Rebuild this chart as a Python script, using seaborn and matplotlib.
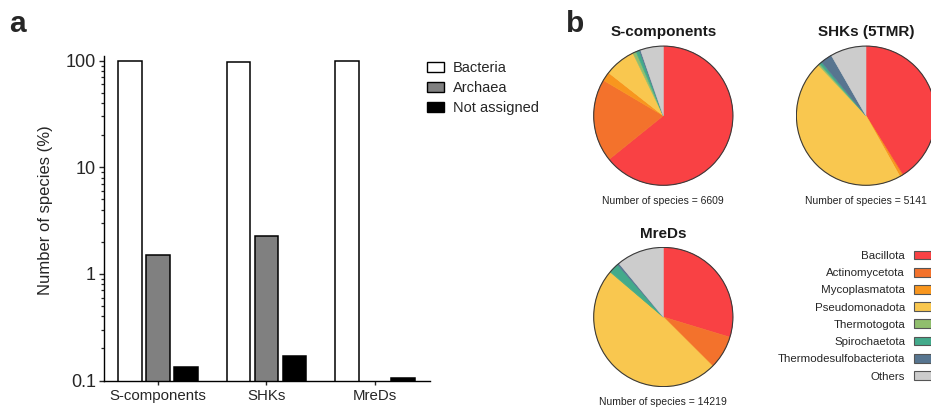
import numpy as np
import pandas as pd
import matplotlib
matplotlib.use("Agg")
import matplotlib.pyplot as plt
from matplotlib.patches import Patch, Circle
from matplotlib.ticker import LogLocator, FixedLocator, FixedFormatter, NullFormatter
import seaborn as sns

# ------------------------------
# Data
# ------------------------------
categories = ["S-components", "SHKs", "MreDs"]
domains = ["Bacteria", "Archaea", "Not assigned"]
bacteria_pct = [98.4, 97.6, 99.9]
archaea_pct = [1.49, 2.25, 0.0]
not_assigned_pct = [0.134, 0.171, 0.105]

phyla = [
    "Bacillota",
    "Actinomycetota",
    "Mycoplasmatota",
    "Pseudomonadota",
    "Thermotogota",
    "Spirochaetota",
    "Thermodesulfobacteriota",
    "Others",
]
s_components_share = [64.2, 19.3, 2.1, 7.2, 0.8, 0.8, 0.3, 5.3]
shks_share = [41.1, 0.2, 0.6, 46.1, 0.4, 0.6, 2.7, 8.3]
mreds_share = [29.7, 7.8, 0.0, 48.7, 0.1, 2.3, 0.45, 11.0]
pie_titles = ["S-components", "SHKs (5TMR)", "MreDs"]
species_counts = [6609, 5141, 14219]

DOMAIN_COLORS = {"Bacteria": "white", "Archaea": "#808080", "Not assigned": "black"}
PHYLA_COLORS = ["#F94144", "#F3722C", "#F8961E", "#F9C74F",
                "#90BE6D", "#43AA8B", "#577590", "#CCCCCC"]

sns.set_style("ticks")
plt.rcParams["font.family"] = ["Liberation Sans", "DejaVu Sans"]

W, H = 931, 411
fig = plt.figure(figsize=(W / 100, H / 100), dpi=100)


def px_axes(x0, y0, x1, y1):
    # pixel box (top-left origin) -> figure axes
    return fig.add_axes([x0 / W, 1 - y1 / H, (x1 - x0) / W, (y1 - y0) / H])


# ------------------------------
# Panel a: bar chart on log scale
# ------------------------------
df_bar = pd.DataFrame({
    "group": categories * 3,
    "domain": ["Bacteria"] * 3 + ["Archaea"] * 3 + ["Not assigned"] * 3,
    "pct": bacteria_pct + archaea_pct + not_assigned_pct,
})

ax = px_axes(103.5, 55.7, 430, 380.5)
sns.barplot(
    data=df_bar, x="group", y="pct", hue="domain",
    order=categories, hue_order=domains, palette=DOMAIN_COLORS,
    width=0.774, gap=0.15, edgecolor="black", linewidth=1.1,
    legend=False, ax=ax,
)
ax.set_yscale("log")
ax.set_ylim(0.1, 111.4)
ax.set_xlim(-0.502, 2.507)
ax.yaxis.set_major_locator(FixedLocator([0.1, 1, 10, 100]))
ax.yaxis.set_major_formatter(FixedFormatter(["0.1", "1", "10", "100"]))
ax.yaxis.set_minor_locator(LogLocator(base=10, subs=np.arange(2, 10)))
ax.yaxis.set_minor_formatter(NullFormatter())
ax.tick_params(axis="y", which="major", length=3.5, width=1.0, pad=2, labelsize=13)
ax.tick_params(axis="y", which="minor", length=2.2, width=0.9)
ax.tick_params(axis="x", length=3, width=1.0, pad=3, labelsize=10.8)
ax.set_xlabel("")
ax.set_ylabel("Number of species (%)", fontsize=12)
ax.yaxis.set_label_coords(-0.155, 0.525)
for side in ["top", "right"]:
    ax.spines[side].set_visible(False)
for side in ["left", "bottom"]:
    ax.spines[side].set_linewidth(1.0)
    ax.spines[side].set_color("black")

bar_handles = [Patch(facecolor=DOMAIN_COLORS[d], edgecolor="black", linewidth=1.0) for d in domains]
fig.legend(
    bar_handles, domains, loc="upper left", bbox_to_anchor=(427 / W, 1 - 61.5 / H),
    frameon=False, fontsize=10.5, handlelength=1.15, handleheight=0.7,
    handletextpad=0.6, labelspacing=0.39, borderpad=0, borderaxespad=0,
)

# ------------------------------
# Panel b: pie charts
# ------------------------------
shares = [s_components_share, shks_share, mreds_share]
centers = [(663.3, 115.7), (866.0, 115.7), (663.3, 317.0)]
R = 70.3

for share, title, n, (cx, cy) in zip(shares, pie_titles, species_counts, centers):
    pax = px_axes(cx - R, cy - R, cx + R, cy + R)
    wedges, _ = pax.pie(share, colors=PHYLA_COLORS, startangle=90, counterclock=False,
                        wedgeprops=dict(linewidth=0.4))
    for w in wedges:
        w.set_edgecolor(w.get_facecolor())
    pax.add_patch(Circle((0, 0), 1, fill=False, edgecolor="#3a3a3a", linewidth=0.8))
    pax.set_xlim(-1.01, 1.01)
    pax.set_ylim(-1.01, 1.01)
    pax.set_aspect("equal")
    pax.axis("off")
    pax.text(0.5, 1.093, title, transform=pax.transAxes, ha="center", va="center",
             fontsize=11, fontweight="bold", color="#1a1a1a")
    pax.text(0.5, -0.105, f"Number of species = {n}", transform=pax.transAxes,
             ha="center", va="center", fontsize=7.5, color="#222222")

pie_handles = [Patch(facecolor=c, edgecolor="#555555", linewidth=0.8) for c in PHYLA_COLORS]
fig.legend(
    pie_handles, phyla, loc="upper right", bbox_to_anchor=(939.5 / W, 1 - 250.5 / H),
    frameon=False, fontsize=8.25, markerfirst=False, handlelength=2.2, handleheight=0.8,
    handletextpad=0.8, labelspacing=0.6, borderpad=0, borderaxespad=0,
)

# panel labels
fig.text(17 / W, 1 - 32.3 / H, "a", fontsize=21.5, fontweight="bold", ha="center", va="baseline")
fig.text(575.5 / W, 1 - 32.3 / H, "b", fontsize=21.5, fontweight="bold", ha="center", va="baseline")

fig.savefig("out.png", dpi=100)
